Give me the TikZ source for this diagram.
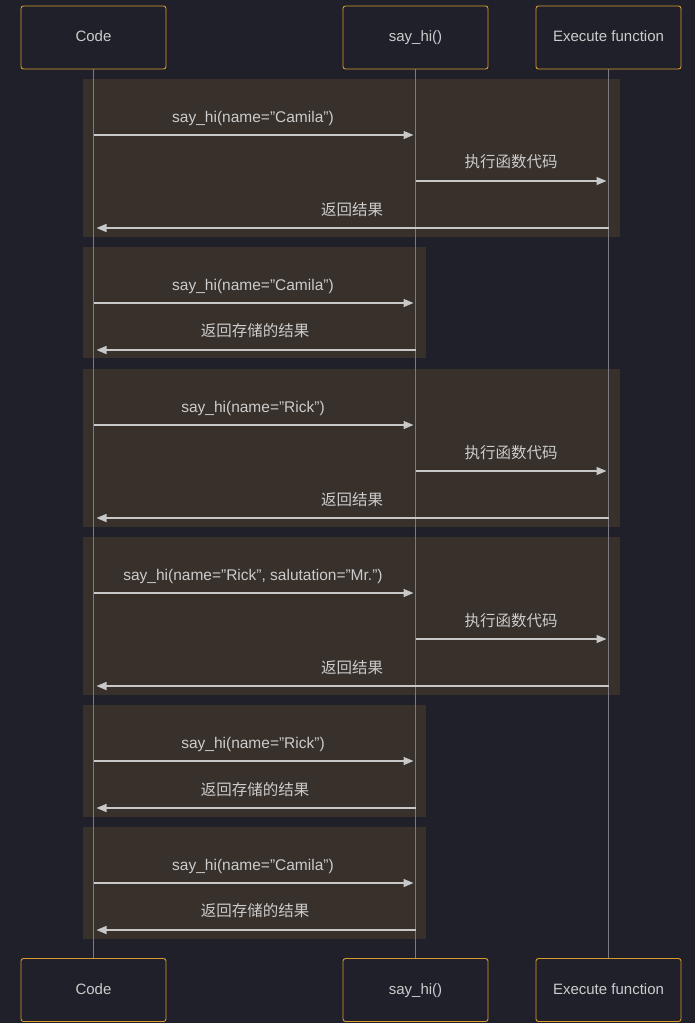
\documentclass[tikz,border=0pt]{standalone}
\usepackage{fontspec}
\setmainfont{Liberation Sans}
\newfontfamily\cjk{Noto Sans CJK SC}
\usetikzlibrary{arrows.meta}
\definecolor{bgc}{HTML}{1F2029}
\definecolor{rectc}{HTML}{37302B}
\definecolor{boxc}{HTML}{D99A2E}
\definecolor{txtc}{HTML}{CCCCCC}
\definecolor{lifec}{HTML}{7A7A80}
\definecolor{msgc}{HTML}{C8C8C8}
\begin{document}
\begin{tikzpicture}[x=1pt,y=-1pt,
  actor/.style={draw=boxc,line width=0.9pt,rounded corners=2.5pt,fill=bgc,minimum width=145pt,minimum height=63pt,text=txtc,font=\fontsize{15}{17}\selectfont,inner sep=0pt,text height=11pt,text depth=3pt},
  lifeline/.style={draw=lifec,line width=1pt},
  msg/.style={draw=msgc,line width=1.4pt,shorten >=2.5pt,-{Triangle[length=10pt,width=8pt]}},
  lbl/.style={text=txtc,font=\fontsize{15.5}{17}\selectfont,inner sep=0pt,text height=11pt,text depth=3pt},
  clbl/.style={text=txtc,font=\cjk\fontsize{15.5}{17}\selectfont,inner sep=0pt,text height=12pt,text depth=2pt}]
\fill[bgc] (0,0) rectangle (695,1023);
\useasboundingbox (0,0) rectangle (695,1023);
% groups
\fill[rectc] (83,79) rectangle (620,237);
\fill[rectc] (83,247) rectangle (426,358);
\fill[rectc] (83,369) rectangle (620,527);
\fill[rectc] (83,537) rectangle (620,695);
\fill[rectc] (83,705) rectangle (426,817);
\fill[rectc] (83,827) rectangle (426,939);
% actors
\node[actor] (codeT) at (93.5,37.5) {Code};
\node[actor] (sayT) at (415.5,37.5) {say\_hi()};
\node[actor] (exeT) at (608.5,37.5) {Execute function};
\node[actor] (codeB) at (93.5,990) {Code};
\node[actor] (sayB) at (415.5,990) {say\_hi()};
\node[actor] (exeB) at (608.5,990) {Execute function};
\draw[lifeline] (codeT.south) -- (codeB.north);
\draw[lifeline] (sayT.south) -- (sayB.north);
\draw[lifeline] (exeT.south) -- (exeB.north);
% coordinates for messages
\foreach \y [count=\i] in {135,181,228,303,350,425,471,518,593,639,686,761,808,883,930}{
  \coordinate (c\i) at (94,\y);
  \coordinate (s\i) at (416,\y);
  \coordinate (e\i) at (609,\y);
}
% group 1
\draw[msg] (c1) -- (s1);
\node[lbl] at (253,118) {say\_hi(name="Camila")};
\draw[msg] (s2) -- (e2);
\node[clbl] at (511,162) {执行函数代码};
\draw[msg] (e3) -- (c3);
\node[clbl] at (352,210) {返回结果};
% group 2
\draw[msg] (c4) -- (s4);
\node[lbl] at (253,286) {say\_hi(name="Camila")};
\draw[msg] (s5) -- (c5);
\node[clbl] at (255,331) {返回存储的结果};
% group 3
\draw[msg] (c6) -- (s6);
\node[lbl] at (253,408) {say\_hi(name="Rick")};
\draw[msg] (s7) -- (e7);
\node[clbl] at (511,453) {执行函数代码};
\draw[msg] (e8) -- (c8);
\node[clbl] at (352,500) {返回结果};
% group 4
\draw[msg] (c9) -- (s9);
\node[lbl] at (253,576) {say\_hi(name="Rick", salutation="Mr.")};
\draw[msg] (s10) -- (e10);
\node[clbl] at (511,621) {执行函数代码};
\draw[msg] (e11) -- (c11);
\node[clbl] at (352,668) {返回结果};
% group 5
\draw[msg] (c12) -- (s12);
\node[lbl] at (253,744) {say\_hi(name="Rick")};
\draw[msg] (s13) -- (c13);
\node[clbl] at (255,790) {返回存储的结果};
% group 6
\draw[msg] (c14) -- (s14);
\node[lbl] at (253,866) {say\_hi(name="Camila")};
\draw[msg] (s15) -- (c15);
\node[clbl] at (255,911) {返回存储的结果};
\end{tikzpicture}
\end{document}
